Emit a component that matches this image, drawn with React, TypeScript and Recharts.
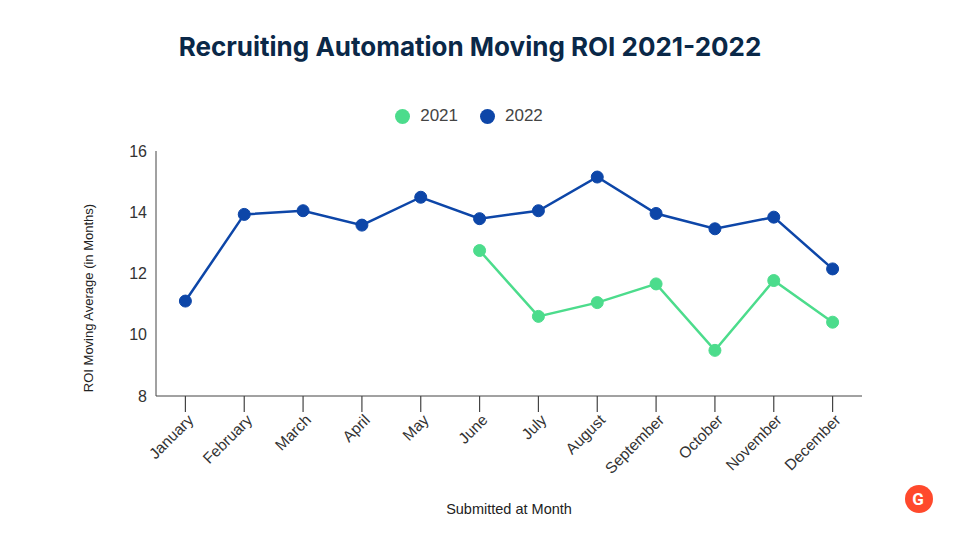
import { CartesianGrid, Legend, Line, LineChart, XAxis, YAxis } from "recharts";

const months = [
	"January",
	"February",
	"March",
	"April",
	"May",
	"June",
	"July",
	"August",
	"September",
	"October",
	"November",
	"December",
];
const roi2021 = [null, null, null, null, null, 12.75, 10.6, 11.05, 11.66, 9.49, 11.77, 10.41];
const roi2022 = [11.1, 13.93, 14.05, 13.58, 14.49, 13.79, 14.05, 15.15, 13.96, 13.46, 13.84, 12.15];
const yTicks = [8, 10, 12, 14, 16];

const data = months.map((month, i) => ({
	month,
	"2021": roi2021[i],
	"2022": roi2022[i],
}));

const GREEN = "#4cdc8c";
const BLUE = "#0d46a8";
const AXIS = "#444";
const FONT = "Liberation Sans, Arial, sans-serif";

function MonthTick({ x, y, payload }: any) {
	return (
		<g>
			<line x1={x} x2={x} y1={y - 8} y2={y + 8} stroke={AXIS} strokeWidth={1.2} />
			<text
				x={x + 9}
				y={y + 17}
				transform={`rotate(-45, ${x + 9}, ${y + 17})`}
				textAnchor="end"
				fontSize={15.5}
				fill="#333"
				fontFamily={FONT}
			>
				{payload.value}
			</text>
		</g>
	);
}

function LegendContent({ payload }: any) {
	return (
		<div style={{ display: "flex", justifyContent: "center", gap: 22, marginLeft: -22, height: 20 }}>
			{payload.map((p: any) => (
				<div key={p.value} style={{ display: "flex", alignItems: "center", gap: 10 }}>
					<span
						style={{
							width: 15,
							height: 15,
							borderRadius: 8,
							background: p.color,
							display: "inline-block",
						}}
					/>
					<span style={{ fontSize: 17, color: "#444", fontFamily: FONT }}>{p.value}</span>
				</div>
			))}
		</div>
	);
}

export default function App() {
	return (
		<div style={{ position: "absolute", left: 0, top: 0, width: 960, height: 540, background: "#fff" }}>
			<div
				style={{
					position: "absolute",
					top: 31,
					left: 0,
					width: 940,
					textAlign: "center",
					fontFamily: "Inter, Roboto, sans-serif",
					fontWeight: 700,
					fontSize: 26,
					color: "#0a2848",
				}}
			>
				Recruiting Automation Moving ROI 2021-2022
			</div>
			<LineChart width={960} height={540} data={data} margin={{ top: 131, right: 98, bottom: 26, left: 83 }}>
				<CartesianGrid stroke="none" />
				<XAxis
					dataKey="month"
					interval={0}
					padding={{ left: 29.4, right: 29.4 }}
					height={118}
					stroke={AXIS}
					tickLine={false}
					tick={<MonthTick />}
					label={{
						value: "Submitted at Month",
						position: "insideBottom",
						offset: 0,
						fontSize: 14.5,
						fill: "#222",
						fontFamily: FONT,
					}}
				/>
				<YAxis
					domain={[8, 16]}
					ticks={yTicks}
					width={73}
					stroke={AXIS}
					tickLine={false}
					tickMargin={3}
					tick={{ fontSize: 16, fill: "#333", fontFamily: FONT }}
					label={{
						value: "ROI Moving Average (in Months)",
						angle: -90,
						position: { x: 10, y: 147 },
						style: { textAnchor: "middle" },
						fontSize: 13,
						fill: "#222",
						fontFamily: FONT,
					}}
				/>
				<Legend verticalAlign="top" content={<LegendContent />} wrapperStyle={{ top: 106, left: 0, width: 960 }} />
				<Line
					dataKey="2021"
					stroke={GREEN}
					strokeWidth={2.5}
					dot={{ r: 6, fill: GREEN, stroke: GREEN, strokeWidth: 1 }}
					activeDot={false}
					isAnimationActive={false}
				/>
				<Line
					dataKey="2022"
					stroke={BLUE}
					strokeWidth={2.5}
					dot={{ r: 6, fill: BLUE, stroke: BLUE, strokeWidth: 1 }}
					activeDot={false}
					isAnimationActive={false}
				/>
			</LineChart>
			<svg style={{ position: "absolute", left: 904, top: 484 }} width={30} height={30}>
				<circle cx={15} cy={15} r={14} fill="#ff492c" />
				<text x={14} y={21} textAnchor="middle" fontSize={17} fontWeight={700} fill="#fff" fontFamily="Roboto, sans-serif">
					G
				</text>
			</svg>
		</div>
	);
}
